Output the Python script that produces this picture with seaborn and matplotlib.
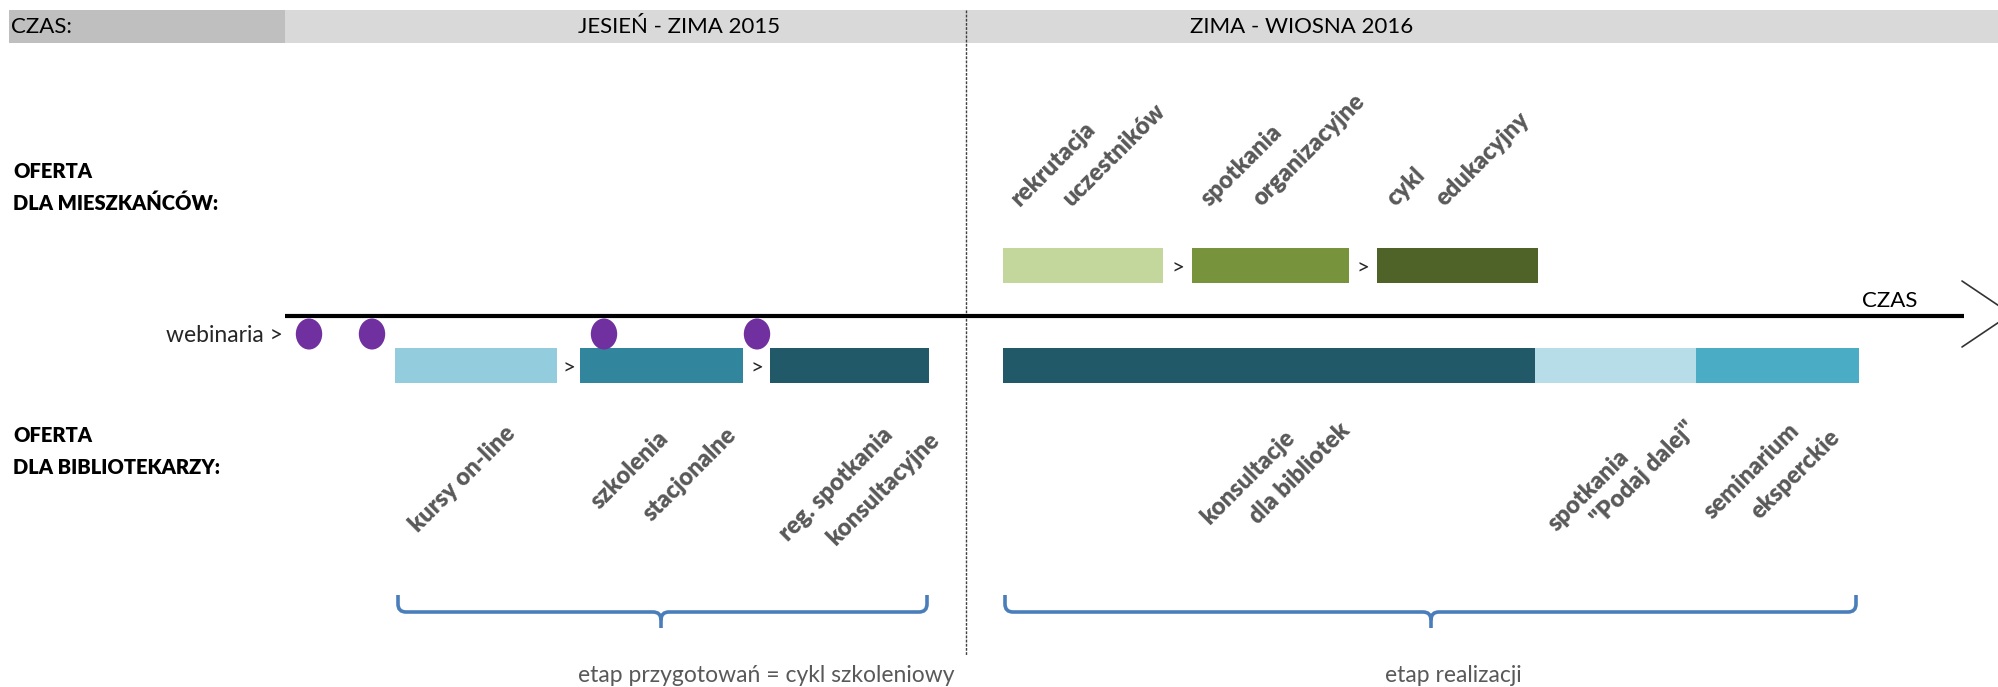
import matplotlib
matplotlib.use("Agg")
import matplotlib.pyplot as plt
import seaborn as sns
from matplotlib.path import Path
from matplotlib.patches import PathPatch, Rectangle
from matplotlib.transforms import Affine2D


# Global style
sns.set_theme(style="white")
plt.rcParams["font.family"] = ["Lato", "DejaVu Sans"]

W, H = 1999, 687  # canvas in pixels, the time axis runs along x

# header periods
periods = ["JESIEŃ - ZIMA 2015", "ZIMA - WIOSNA 2016"]
period_x = [679, 1302]

# offer for residents (upper track)
res_start = [1003, 1192, 1377]
res_end = [1163, 1349, 1538]
res_labels = [["rekrutacja", "uczestników"],
              ["spotkania", "organizacyjne"],
              ["cykl", "edukacyjny"]]
res_label_x = [[1020, 1072], [1210, 1262], [1396, 1445]]
res_label_y = [[207, 207], [207, 207], [207, 207]]

# offer for librarians (lower track)
lib_start = [395, 580, 770, 1003, 1535, 1696]
lib_end = [557, 743, 929, 1535, 1696, 1859]
lib_labels = [["kursy on-line"],
              ["szkolenia", "stacjonalne"],
              ["reg. spotkania", "konsultacyjne"],
              ["konsultacje", "dla bibliotek"],
              ["spotkania", "\"Podaj dalej\""],
              ["seminarium", "eksperckie"]]
lib_label_x = [[418], [600, 652], [788, 836], [1210, 1258], [1557, 1600], [1713, 1760]]
lib_label_y = [[533], [510, 522], [542, 546], [525, 525], [532, 527], [520, 520]]

# webinars
webinar_x = [309, 372, 604, 757]

# stages (braces)
stage_names = ["etap przygotowań = cykl szkoleniowy", "etap realizacji"]
stage_start = [398, 1005]
stage_end = [927, 1856]
stage_tip = [661, 1431]
stage_text_x = [766, 1453]

res_colors = ["#c3d69b", "#77933c", "#4f6228"]
lib_colors = ["#93cddd", "#31859c", "#215968", "#215968", "#b7dee8", "#4bacc6"]
label_color = "#595959"
brace_color = "#4a7ebb"


def brace(ax, x0, x1, xt, ytop=595, ymid=612, ybot=628, r=8):
    verts = [
        (x0, ytop), (x0, ymid - r), (x0, ymid), (x0 + r, ymid),
        (xt - r, ymid), (xt, ymid), (xt, ymid + r), (xt, ybot),
        (xt, ymid + r), (xt, ymid), (xt + r, ymid),
        (x1 - r, ymid), (x1, ymid), (x1, ymid - r), (x1, ytop),
    ]
    codes = [
        Path.MOVETO, Path.LINETO, Path.CURVE3, Path.CURVE3,
        Path.LINETO, Path.CURVE3, Path.CURVE3, Path.LINETO,
        Path.MOVETO, Path.CURVE3, Path.CURVE3,
        Path.LINETO, Path.CURVE3, Path.CURVE3, Path.LINETO,
    ]
    ax.add_patch(PathPatch(Path(verts, codes), fill=False, lw=2.6,
                           edgecolor=brace_color, capstyle="butt"))


fig = plt.figure(figsize=(W / 100, H / 100), dpi=100)
ax = fig.add_axes([0, 0, 1, 1])

# header band
ax.add_patch(Rectangle((9, 10), W - 9, 33, color="#d9d9d9", lw=0))
ax.add_patch(Rectangle((9, 10), 276, 33, color="#bfbfbf", lw=0))
ax.text(11, 27, "CZAS:", fontsize=16, ha="left", va="center", color="black")
for name, x in zip(periods, period_x):
    ax.text(x, 27, name, fontsize=16, ha="center", va="center", color="black")

# period divider
ax.plot([966, 966], [10, 655], color="#404040", lw=1, ls=(0, (2, 1)))

# row titles
for y, txt in zip([171, 203, 435, 467],
                  ["OFERTA", "DLA MIESZKAŃCÓW:", "OFERTA", "DLA BIBLIOTEKARZY:"]):
    ax.text(13, y, txt, fontsize=14.5, fontweight="heavy", va="center", color="black")

# time axis with chevron
ax.plot([285, 1964], [316, 316], color="black", lw=3, solid_capstyle="butt")
ax.plot([1962, 2020], [281, 320], color="#333333", lw=1.2)
ax.plot([1962, 2020], [347, 308], color="#333333", lw=1.2)
ax.text(1890, 301, "CZAS", fontsize=16, ha="center", va="center", color="black")

# bars
res_w = [e - s for s, e in zip(res_start, res_end)]
lib_w = [e - s for s, e in zip(lib_start, lib_end)]
ax.barh(y=265.5, width=res_w, left=res_start, height=35, color=res_colors, lw=0)
ax.barh(y=365.5, width=lib_w, left=lib_start, height=35, color=lib_colors, lw=0)

# step arrows between consecutive bars
for e, s in zip(res_end[:-1], res_start[1:]):
    ax.text((e + s) / 2, 268, ">", fontsize=16, ha="center", va="center")
for e, s in zip(lib_end[:2], lib_start[1:3]):
    ax.text((e + s) / 2, 368, ">", fontsize=16, ha="center", va="center")

# webinars
ax.text(283, 335, "webinaria >", fontsize=16.5, ha="right", va="center")
ellipse = Path.unit_circle().transformed(Affine2D().scale(0.85, 1.0))
sns.scatterplot(x=webinar_x, y=[334] * len(webinar_x), marker=ellipse, s=500,
                color="#7030a0", edgecolor="none", ax=ax, legend=False)

# rotated labels
for lines, xs, ys in zip(res_labels + lib_labels,
                         res_label_x + lib_label_x,
                         res_label_y + lib_label_y):
    for txt, x, y in zip(lines, xs, ys):
        ax.text(x, y, txt, fontsize=17, fontweight="heavy", color=label_color,
                rotation=45, rotation_mode="anchor", ha="left", va="baseline")

# stage braces and names
for name, s, e, t, tx in zip(stage_names, stage_start, stage_end, stage_tip, stage_text_x):
    brace(ax, s, e, t)
    ax.text(tx, 675, name, fontsize=16.5, ha="center", va="center", color=label_color)

ax.set_xlim(0, W)
ax.set_ylim(H, 0)
ax.axis("off")

fig.savefig("out.png", dpi=100)
